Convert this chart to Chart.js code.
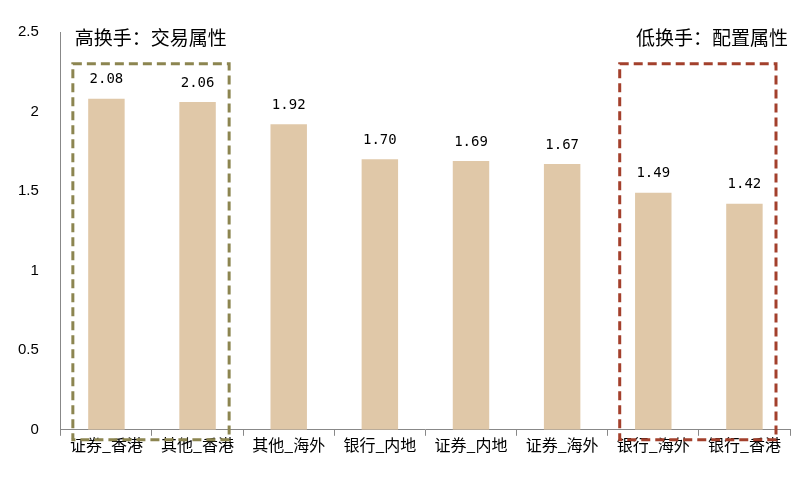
<!DOCTYPE html>
<html lang="zh">
<head>
<meta charset="UTF-8">
<script src="https://cdn.jsdelivr.net/npm/chart.js@4/dist/chart.umd.min.js"></script>
<style>
  body { margin: 0; background: #fff; }
  #wrap { position: relative; width: 812px; height: 477px; }
</style>
</head>
<body>
<div id="wrap"><canvas id="c"></canvas></div>
<script>
const categories = ['证券_香港', '其他_香港', '其他_海外', '银行_内地', '证券_内地', '证券_海外', '银行_海外', '银行_香港'];
const turnover = [2.08, 2.06, 1.92, 1.70, 1.69, 1.67, 1.49, 1.42];
const yTicks = [0, 0.5, 1, 1.5, 2, 2.5];

const cjk = '"Noto Sans CJK SC", sans-serif';

// dashed boxes + data labels
const overlay = {
  id: 'overlay',
  afterDatasetsDraw(chart) {
    const ctx = chart.ctx, x = chart.scales.x, y = chart.scales.y;
    const meta = chart.getDatasetMeta(0);
    ctx.save();
    ctx.font = '14px "DejaVu Sans Mono", monospace';
    ctx.fillStyle = '#000';
    ctx.textAlign = 'center';
    ctx.textBaseline = 'bottom';
    meta.data.forEach((bar, i) => {
      ctx.fillText(turnover[i].toFixed(2), bar.x, bar.y - 12);
    });
    const half = (x.getPixelForValue(1) - x.getPixelForValue(0)) / 2;
    function box(a, b, color, title, alignLeft) {
      const l = x.getPixelForValue(a) - half + 12;
      const r = x.getPixelForValue(b) + half - 14;
      const t = y.getPixelForValue(2.3);
      const btm = y.getPixelForValue(0) + 10;
      ctx.setLineDash([9, 5]);
      ctx.lineWidth = 3;
      ctx.strokeStyle = color;
      ctx.strokeRect(l, t, r - l, btm - t);
      ctx.setLineDash([]);
      ctx.font = '19px ' + cjk;
      ctx.fillStyle = '#000';
      ctx.textBaseline = 'middle';
      ctx.textAlign = alignLeft ? 'left' : 'right';
      ctx.fillText(title, alignLeft ? l + 2 : r + 12, 38);
    }
    box(0, 1, '#8c8550', '高换手：交易属性', true);
    box(6, 7, '#a3402c', '低换手：配置属性', false);
    ctx.restore();
  }
};

new Chart(document.getElementById('c'), {
  type: 'bar',
  data: {
    labels: categories,
    datasets: [{
      data: turnover,
      backgroundColor: '#e0c8a8',
      barPercentage: 0.4,
      categoryPercentage: 1
    }]
  },
  options: {
    responsive: true,
    maintainAspectRatio: false,
    animation: false,
    layout: { padding: { top: 32, right: 22, left: 4, bottom: 22 } },
    plugins: { legend: { display: false }, tooltip: { enabled: false } },
    scales: {
      x: {
        grid: { display: true, drawOnChartArea: false, offset: true, color: '#888', tickLength: 6 },
        border: { color: '#888' },
        ticks: { color: '#000', font: { family: cjk, size: 16 }, maxRotation: 0, padding: 0 }
      },
      y: {
        min: 0, max: 2.5,
        afterBuildTicks(s) { s.ticks = yTicks.map(v => ({ value: v })); },
        grid: { display: false },
        border: { color: '#888' },
        ticks: { color: '#000', font: { family: 'Liberation Sans', size: 15 }, padding: 14,
                 callback: v => String(v) }
      }
    }
  },
  plugins: [overlay]
});
</script>
</body>
</html>
